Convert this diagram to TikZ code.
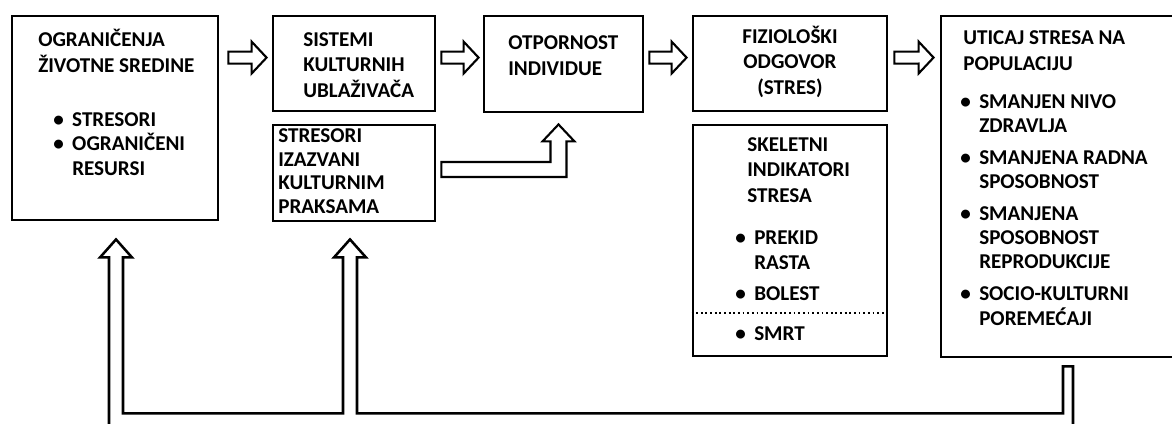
\documentclass[tikz,border=0pt]{standalone}
\usepackage{fontspec}
\setmainfont{Carlito}
\usetikzlibrary{calc}

\newcommand{\bul}{\makebox[13.5pt][l]{\textbullet}}
\newcommand{\ind}{\hspace*{13.5pt}}
\newcommand{\blok}[2]{\draw[strelica] ($(#1)+(0,-6)$) -- ($(#2)+(-15,-6)$) -- ($(#2)+(-15,-16)$) -- (#2) -- ($(#2)+(-15,16)$) -- ($(#2)+(-15,6)$) -- ($(#1)+(0,6)$) -- cycle;}

\tikzset{
	okvir/.style={draw, line width=2pt, inner sep=0pt},
	tekst/.style={align=left, inner sep=0pt, anchor=base west, font=\bfseries\fontsize{15}{17.8}\selectfont},
	lista/.style={tekst, font=\bfseries\fontsize{15}{17.1}\selectfont},
	strelica/.style={draw, line width=1.5pt, line join=miter, fill=white},
}

\begin{document}
\begin{tikzpicture}[x=0.025cm, y=-0.025cm]
	
	\useasboundingbox (0,0) rectangle (1172,423);
	\clip (0,0) rectangle (1172,423);
	
	% okviri
	\node[okvir, minimum width=5.15cm, minimum height=5.1cm] (ogr) at (115,118) {};
	\node[okvir, minimum width=4.05cm, minimum height=2.375cm] (sis) at (354,63.5) {};
	\node[okvir, minimum width=4.05cm, minimum height=2.4cm] (prak) at (354,173) {};
	\node[okvir, minimum width=3.975cm, minimum height=2.4cm] (otp) at (563.5,64) {};
	\node[okvir, minimum width=4.85cm, minimum height=2.375cm] (fiz) at (790,63.5) {};
	\node[okvir, minimum width=4.85cm, minimum height=5.775cm] (skel) at (790,240.5) {};
	\node[okvir, minimum width=6.35cm, minimum height=8.525cm] (uti) at (1068,186.5) {};
	
	\draw[line width=1.3pt, dotted] (skel.west |- 0,313) -- (skel.east |- 0,313);
	
	% tekstovi (sidro je osnovna linija zadnjeg reda)
	\node[tekst] (t1) at (38,72) {OGRANIČENJA\\ŽIVOTNE SREDINE};
	\node[lista] (l1) at (53,175) {\bul STRESORI\\\bul OGRANIČENI\\\ind RESURSI};
	\node[tekst] (t2) at (303,97) {SISTEMI\\KULTURNIH\\UBLAŽIVAČA};
	\node[tekst, font=\bfseries\fontsize{15}{16.6}\selectfont] (t2b) at (278,213) {STRESORI\\IZAZVANI\\KULTURNIM\\PRAKSAMA};
	\node[tekst] (t3) at (508,75) {OTPORNOST\\INDIVIDUE};
	\node[tekst, align=center, anchor=base] (t4) at (790,94) {FIZIOLOŠKI\\ODGOVOR\\(STRES)};
	\node[tekst] (t4b) at (747,202) {SKELETNI\\INDIKATORI\\STRESA};
	\node[tekst] (l4b) at (735,300) {\bul PREKID\\\ind RASTA\\[3.6pt]\bul BOLEST};
	\node[tekst] (l4c) at (735,340) {\bul SMRT};
	\node[tekst] (t5) at (963,70) {UTICAJ STRESA NA\\POPULACIJU};
	\node[lista] (l5) at (960,325) {\bul SMANJEN NIVO\\\ind ZDRAVLJA\\[5.7pt]\bul SMANJENA RADNA\\\ind SPOSOBNOST\\[5.7pt]\bul SMANJENA\\\ind SPOSOBNOST\\\ind REPRODUKCIJE\\[5.7pt]\bul SOCIO-KULTURNI\\\ind POREMEĆAJI};
	
	% strelice
	\blok{$(ogr.north east)+(9,43)$}{$(sis.north west)+(-5,43)$}
	\blok{$(sis.north east)+(5,43)$}{$(otp.north west)+(-4,43)$}
	\blok{$(otp.north east)+(5,43)$}{$(fiz.north west)+(-5,43)$}
	\blok{$(fiz.north east)+(6,43)$}{$(uti.north west)+(-6,43)$}
	
	\coordinate (v) at ($(otp.south)+(-5,11)$);
	\coordinate (h) at ($(prak.east)+(5,-3.5)$);
	\draw[strelica] ($(h)+(0,-7.5)$) -- ($(v |- h)+(-8,-7.5)$) -- ($(v)+(-8,17)$) -- ($(v)+(-16,17)$) -- (v) -- ($(v)+(16,17)$) -- ($(v)+(8,17)$) -- ($(v |- h)+(8,7.5)$) -- ($(h)+(0,7.5)$) -- cycle;
	
	% povratna veza
	\coordinate (p1) at ($(ogr.south)+(1,18)$);
	\coordinate (p2) at ($(prak.south)+(-4,17)$);
	\coordinate (p3) at ($(uti.south)+(0,8)$);
	\draw[strelica, line width=1.8pt] (p1) -- ($(p1)+(16,18)$) -- ($(p1)+(7,18)$) |- ($(p2)+(-7,174)$) -- ($(p2)+(-7,18)$) -- ($(p2)+(-16,18)$) -- (p2) -- ($(p2)+(16,18)$) -- ($(p2)+(7,18)$) |- ($(p3)+(-5,47)$) -- ($(p3)+(-5,0)$) -- ($(p3)+(5,0)$) -- ($(p3)+(5,61)$) -| ($(p1)+(-7,18)$) -- ($(p1)+(-16,18)$) -- cycle;
	
\end{tikzpicture}
\end{document}
